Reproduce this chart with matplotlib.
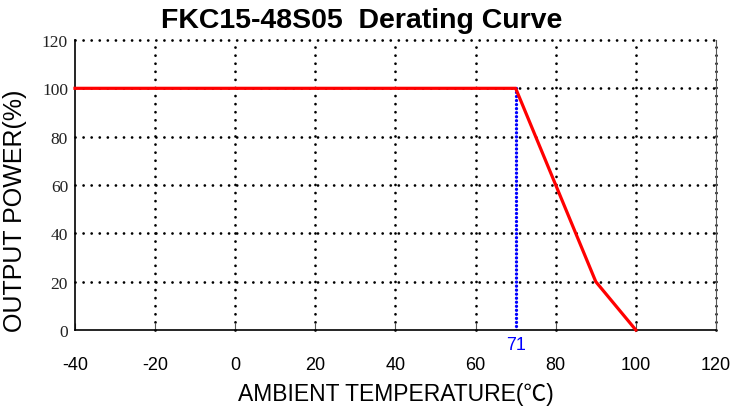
import matplotlib.pyplot as plt

plt.rcParams["axes.unicode_minus"] = False

# Derating curve data
temp = [-40, 70, 90, 100]
power = [100, 100, 20, 0]
limit_temp = 70
limit_label = "71"
x_ticks = [-40, -20, 0, 20, 40, 60, 80, 100, 120]
y_ticks = [0, 20, 40, 60, 80, 100, 120]

fig = plt.figure(figsize=(7.55, 4.14), dpi=100)
ax = fig.add_axes([0.0993, 0.2005, 0.849, 0.7005])

ax.set_xlim(-40, 120)
ax.set_ylim(0, 120)

# dotted grid with round dots
dots = (0, (0.01, 2.9))
for x in x_ticks[1:]:
    ax.plot([x, x], [0, 120], color="black", lw=2.0, ls=dots,
            dash_capstyle="round", zorder=1, clip_on=False)
for y in y_ticks[1:]:
    ax.plot([-40, 120], [y, y], color="black", lw=2.0, ls=dots,
            dash_capstyle="round", zorder=1, clip_on=False)

ax.plot([limit_temp, limit_temp], [0, 100], color="blue", lw=2.4,
        ls=(0, (0.01, 1.2)), dash_capstyle="round", zorder=2)
ax.plot(temp, power, color="red", lw=2.3, zorder=3, clip_on=False)

ax.text(limit_temp, -2.6, limit_label, color="blue", fontsize=13,
        ha="center", va="top", family="Liberation Sans")

ax.spines["top"].set_visible(False)
ax.spines["right"].set_color("#555555")
ax.spines["left"].set_linewidth(1.2)
ax.spines["bottom"].set_linewidth(1.2)

ax.set_xticks(x_ticks)
ax.set_yticks(y_ticks)
ax.tick_params(axis="x", direction="in", length=5, color="#555555",
               pad=18.5, labelsize=13)
ax.tick_params(axis="y", length=0, pad=5, labelsize=12.5, labelcolor="#222222")
for lab in ax.get_xticklabels():
    lab.set_family("Liberation Sans")
for lab in ax.get_yticklabels():
    lab.set_family("Liberation Serif")

ax.set_title("FKC15-48S05  Derating Curve", fontsize=20.5, fontweight="bold",
             family="Liberation Sans", pad=9, x=0.448)
ax.set_xlabel("AMBIENT TEMPERATURE(℃)", fontsize=16.5, labelpad=7,
              family=["Liberation Sans", "Noto Sans CJK SC"])
ax.set_ylabel("OUTPUT POWER(%)", fontsize=18, labelpad=2,
              family="Liberation Sans")
ax.yaxis.set_label_coords(-0.075, 0.414)

fig.savefig("out.png", dpi=100)
